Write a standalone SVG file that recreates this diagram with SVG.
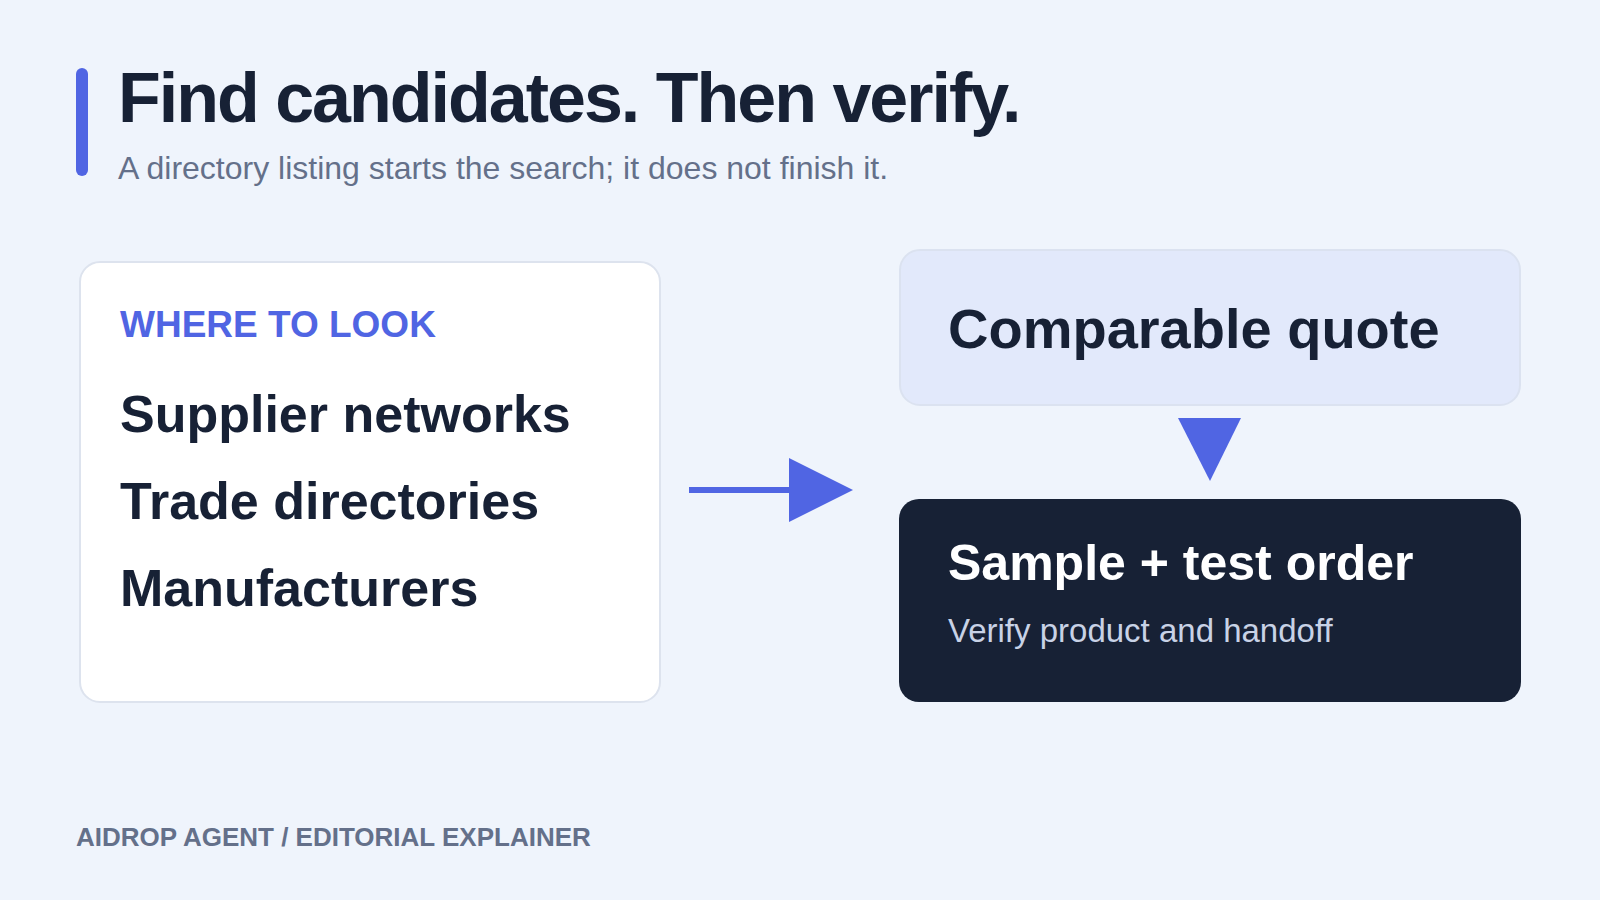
<svg xmlns="http://www.w3.org/2000/svg" width="1600" height="900" viewBox="0 0 1600 900">
<style>
text{font-family:"Liberation Sans",Arial,Helvetica,sans-serif}
.title{font-size:70px;font-weight:700;fill:#172135;letter-spacing:-2px}
.sub{font-size:32px;fill:#64708a}
.kicker{font-size:37px;font-weight:700;fill:#5065e3}
.item{font-size:52px;font-weight:700;fill:#172135}
.head{font-size:56px;font-weight:700;fill:#172135}
.headw{font-size:50px;font-weight:700;fill:#ffffff}
.note{font-size:33px;fill:#c8d2e6}
.foot{font-size:26px;font-weight:700;fill:#64708a}
.arrow{fill:#5065e3}
</style>
<rect width="1600" height="900" fill="#eff4fc"/>
<rect x="76" y="68" width="12" height="108" rx="6" fill="#5065e3"/>
<text class="title" x="118" y="122">Find candidates. Then verify.</text>
<text class="sub" x="118" y="179">A directory listing starts the search; it does not finish it.</text>
<g id="where">
<rect x="80" y="262" width="580" height="440" rx="20" fill="#ffffff" stroke="#dde3ee" stroke-width="2"/>
<text class="kicker" x="120" y="337">WHERE TO LOOK</text>
<text class="item" x="120" y="432">Supplier networks</text>
<text class="item" x="120" y="519">Trade directories</text>
<text class="item" x="120" y="606">Manufacturers</text>
</g>
<g id="quote">
<rect x="900" y="250" width="620" height="155" rx="20" fill="#e2e9fb" stroke="#dbe2f0" stroke-width="2"/>
<text class="head" x="948" y="348">Comparable quote</text>
</g>
<g id="sample">
<rect x="899" y="499" width="622" height="203" rx="20" fill="#172135"/>
<text class="headw" x="948" y="580">Sample + test order</text>
<text class="note" x="948" y="642">Verify product and handoff</text>
</g>
<g id="connectors">
<rect x="689" y="487" width="102" height="6" class="arrow"/>
<polygon points="789,458 853,490 789,522" class="arrow"/>
<polygon points="1178,418 1241,418 1210,481" class="arrow"/>
</g>
<text class="foot" x="76" y="846">AIDROP AGENT / EDITORIAL EXPLAINER</text>
</svg>
